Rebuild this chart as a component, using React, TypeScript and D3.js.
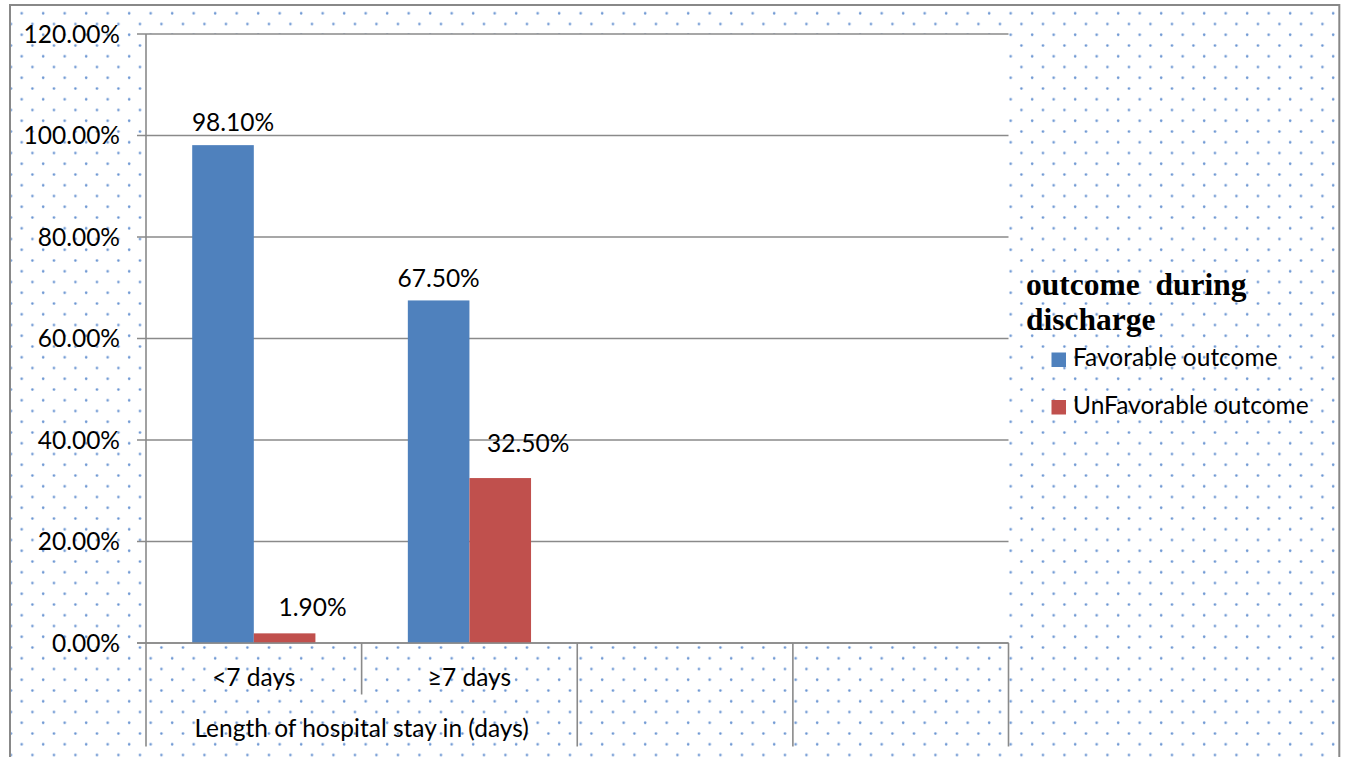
import React from "react";
import * as d3 from "d3";

// Length of hospital stay groups (two empty slots follow in the axis table)
const categories = ["<7 days", "≥7 days", "", ""];
const groupLabel = "Length of hospital stay in (days)";
const seriesNames = ["Favorable outcome", "UnFavorable outcome"];
const favorable = [0.981, 0.675];
const unfavorable = [0.019, 0.325];
const yTicks = [0, 0.2, 0.4, 0.6, 0.8, 1.0, 1.2];
const legendTitleLines = ["outcome  during", "discharge"];

// manual nudges of the data labels, [dx, dy] per point
const favorableLabelShift = [[10, 0], [0, 1]];
const unfavorableLabelShift = [[28, -3], [28, -12]];

const W = 1346;
const H = 757;
const colors = ["#4f81bd", "#c0504d"];
const gridColor = "#8a8a8a";
const font = "Lato, 'Open Sans', sans-serif";
const fs = 24.5;

export default function App() {
  const plot = { left: 146, right: 1008.5, top: 34, bottom: 643 };
  const x = d3.scaleBand<string>().domain(categories.map((_, i) => String(i))).range([plot.left, plot.right]).padding(0);
  const slot = x.bandwidth();
  const barW = slot / 3.5;
  const inner = d3.scaleBand<string>().domain(seriesNames).range([barW * 0.75, slot - barW * 0.75]).padding(0);
  const y = d3.scaleLinear().domain([0, 1.2]).range([plot.bottom, plot.top]);
  const fmt = d3.format(".2%");
  const series = [favorable, unfavorable];
  const shifts = [favorableLabelShift, unfavorableLabelShift];
  const axisBottom = 746.5;
  const row1Bottom = 694.5;

  return (
    <svg
      width={W}
      height={H}
      style={{ position: "absolute", left: 0, top: 0, background: "#fff" }}
      fontFamily={font}
    >
      <defs>
        <pattern id="dots" patternUnits="userSpaceOnUse" x={0} y={0} width={21.5} height={21.5}>
          <rect width={21.5} height={21.5} fill="#fff" />
          <circle cx={0.2} cy={13.3} r={1.25} fill="#6a95d2" />
          <circle cx={21.7} cy={13.3} r={1.25} fill="#6a95d2" />
          <circle cx={10.95} cy={2.55} r={1.25} fill="#6a95d2" />
        </pattern>
      </defs>

      {/* chart area with dotted fill */}
      <rect x={10} y={5} width={1329.3} height={H} fill="url(#dots)" />
      <path d={`M10,${H + 2}V5H1339.3V${H + 2}`} fill="none" stroke="#888" strokeWidth={2} />

      {/* plot area */}
      <rect x={plot.left} y={plot.top} width={plot.right - plot.left} height={plot.bottom - plot.top} fill="#fff" />

      {/* gridlines and y ticks */}
      {yTicks.map((t) => (
        <g key={t}>
          <line x1={137} x2={plot.right} y1={y(t)} y2={y(t)} stroke={gridColor} strokeWidth={1.4} />
          <text x={120} y={y(t) + fs * 0.35} textAnchor="end" fontSize={fs} fill="#000">
            {fmt(t)}
          </text>
        </g>
      ))}

      {/* bars */}
      {series.map((vals, si) =>
        vals.map((v, ci) => {
          const bx = (x(String(ci)) ?? 0) + (inner(seriesNames[si]) ?? 0);
          return (
            <rect
              key={`${si}-${ci}`}
              x={bx}
              y={y(v)}
              width={inner.bandwidth()}
              height={y(0) - y(v)}
              fill={colors[si]}
            />
          );
        })
      )}

      {/* data labels */}
      {series.map((vals, si) =>
        vals.map((v, ci) => {
          const cx = (x(String(ci)) ?? 0) + (inner(seriesNames[si]) ?? 0) + inner.bandwidth() / 2;
          const [dx, dy] = shifts[si][ci];
          return (
            <text
              key={`l-${si}-${ci}`}
              x={cx + dx}
              y={y(v) - 14 + dy}
              textAnchor="middle"
              fontSize={fs}
              fill="#000"
            >
              {fmt(v)}
            </text>
          );
        })
      )}

      {/* axes */}
      <line x1={plot.left} x2={plot.left} y1={plot.top} y2={axisBottom} stroke={gridColor} strokeWidth={1.6} />
      <line x1={137} x2={plot.right} y1={plot.bottom} y2={plot.bottom} stroke={gridColor} strokeWidth={1.6} />
      {categories.map((_, i) => {
        if (i === 0) return null;
        const xx = x(String(i)) ?? 0;
        return (
          <line
            key={`d${i}`}
            x1={xx}
            x2={xx}
            y1={plot.bottom}
            y2={i === 1 ? row1Bottom : axisBottom}
            stroke={gridColor}
            strokeWidth={1.6}
          />
        );
      })}
      <line x1={plot.right} x2={plot.right} y1={plot.bottom} y2={axisBottom} stroke={gridColor} strokeWidth={1.6} />

      {categories.map((c, i) => (
        <text
          key={`c${i}`}
          x={(x(String(i)) ?? 0) + slot / 2}
          y={686}
          textAnchor="middle"
          fontSize={fs}
          fill="#000"
        >
          {c}
        </text>
      ))}
      <text x={(plot.left + (x("2") ?? 0)) / 2} y={737} textAnchor="middle" fontSize={fs} fill="#000">
        {groupLabel}
      </text>

      {/* legend */}
      {legendTitleLines.map((t, i) => (
        <text
          key={t}
          x={1026}
          y={295 + i * 35}
          fontFamily="'Liberation Serif', 'Times New Roman', serif"
          fontWeight="bold"
          fontSize={31.5}
          fill="#000"
          style={{ whiteSpace: "pre" }}
        >
          {t}
        </text>
      ))}
      {seriesNames.map((s, i) => (
        <g key={s}>
          <rect x={1051.5} y={352.5 + i * 47.5} width={14.5} height={14.5} fill={colors[i]} />
          <text x={1073} y={366 + i * 48} fontSize={fs} fill="#000">
            {s}
          </text>
        </g>
      ))}
    </svg>
  );
}
